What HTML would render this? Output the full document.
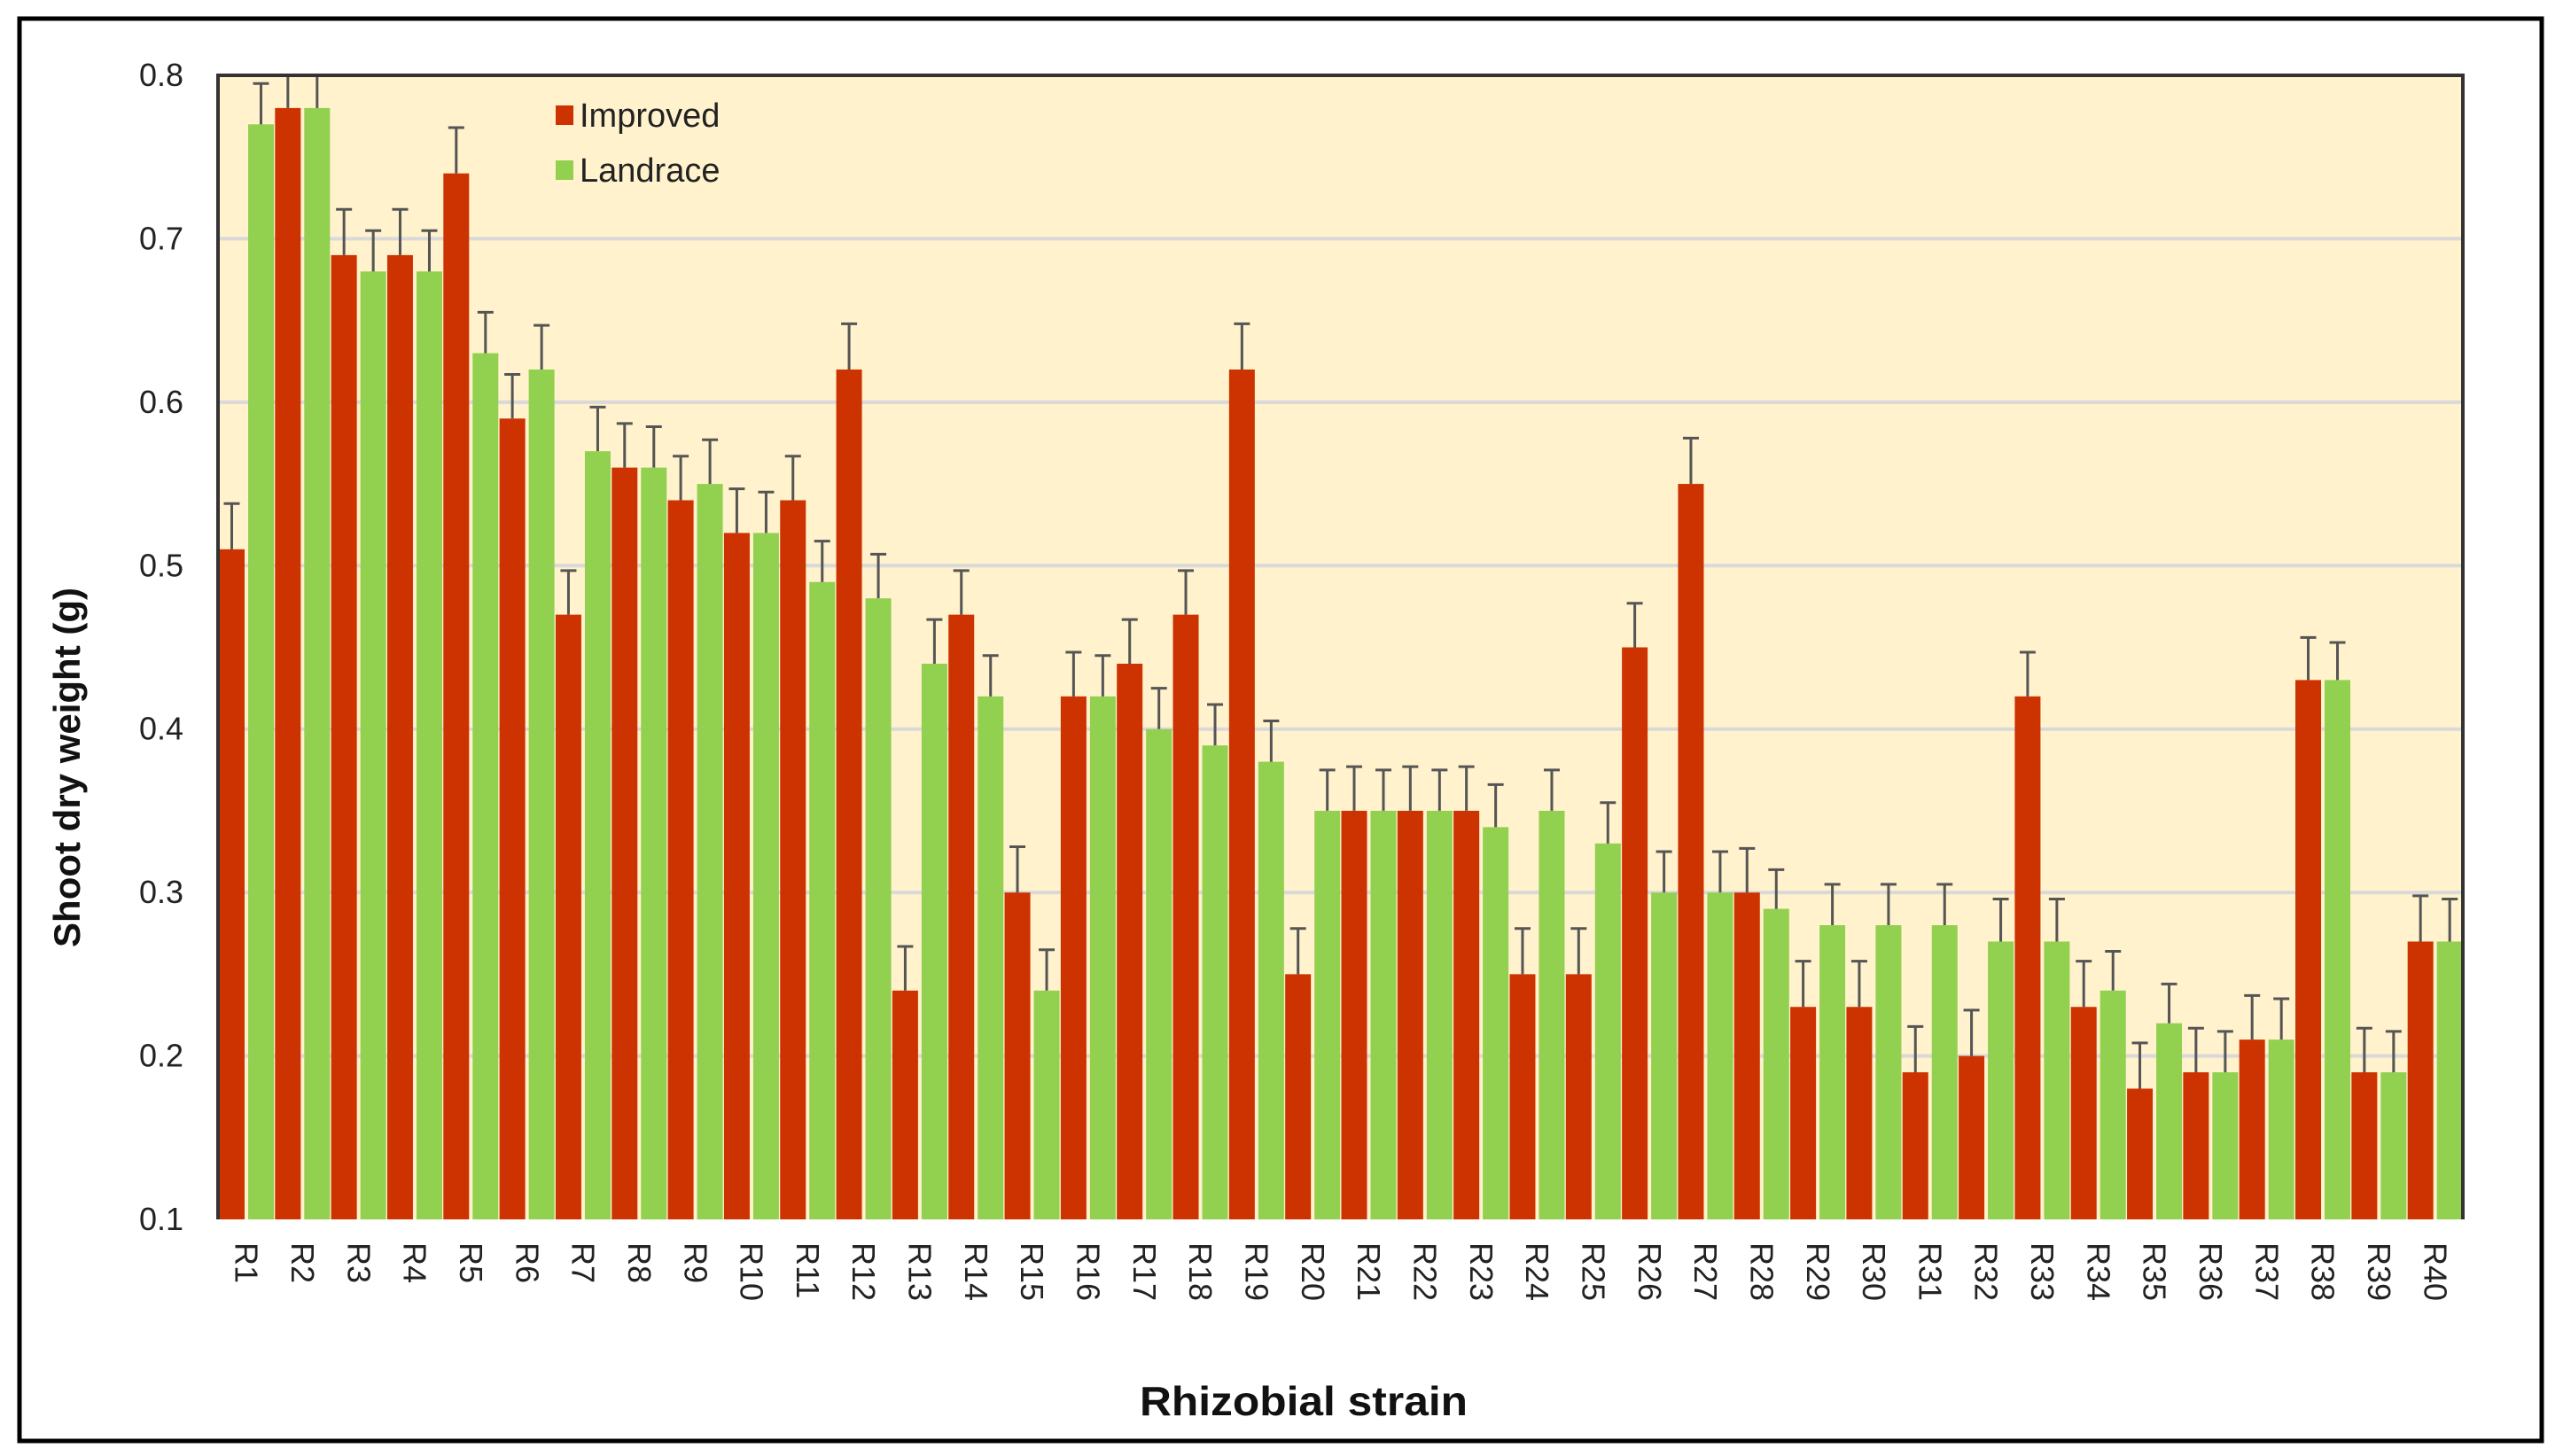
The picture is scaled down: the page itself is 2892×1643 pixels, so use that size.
<!DOCTYPE html>
<html><head><meta charset="utf-8">
<style>
html,body{margin:0;padding:0;background:#fff;}
svg{display:block;font-family:"Liberation Sans",Arial,sans-serif;}
</style></head>
<body>
<svg id="chart" width="2892" height="1643" viewBox="0 0 2892 1643" xmlns="http://www.w3.org/2000/svg">
<rect x="22" y="21" width="2846" height="1605" fill="#fff" stroke="#000" stroke-width="5"/>
<rect x="246" y="85" width="2533" height="1291" fill="#fff2cc"/>
<g id="grid"></g>
<g id="bars"></g>
<g id="errs"></g>
<path d="M246 1376 V85 H2779 V1376" fill="none" stroke="#333" stroke-width="4"/>
<g id="yticks"></g>
<g id="xticks"></g>
<text transform="translate(90,866) rotate(-90)" text-anchor="middle" font-size="42" font-weight="bold" fill="#111">Shoot dry weight (g)</text>
<text x="1286" y="1597" font-size="46" font-weight="bold" fill="#111" textLength="370" lengthAdjust="spacingAndGlyphs">Rhizobial  strain</text>
<g>
<rect x="627" y="119" width="20" height="22" fill="#cc3300"/>
<text x="654" y="143" font-size="38" fill="#222">Improved</text>
<rect x="627" y="181" width="20" height="22" fill="#92d050"/>
<text x="654" y="205" font-size="38" fill="#222">Landrace</text>
</g>
</svg>
<script>
const categories = ["R1","R2","R3","R4","R5","R6","R7","R8","R9","R10","R11","R12","R13","R14","R15","R16","R17","R18","R19","R20","R21","R22","R23","R24","R25","R26","R27","R28","R29","R30","R31","R32","R33","R34","R35","R36","R37","R38","R39","R40"];
const improved = [0.51,0.78,0.69,0.69,0.74,0.59,0.47,0.56,0.54,0.52,0.54,0.62,0.24,0.47,0.30,0.42,0.44,0.47,0.62,0.25,0.35,0.35,0.35,0.25,0.25,0.45,0.55,0.30,0.23,0.23,0.19,0.20,0.42,0.23,0.18,0.19,0.21,0.43,0.19,0.27];
const landrace = [0.77,0.78,0.68,0.68,0.63,0.62,0.57,0.56,0.55,0.52,0.49,0.48,0.44,0.42,0.24,0.42,0.40,0.39,0.38,0.35,0.35,0.35,0.34,0.35,0.33,0.30,0.30,0.29,0.28,0.28,0.28,0.27,0.27,0.24,0.22,0.19,0.21,0.43,0.19,0.27];
const improvedErr = [0.028,0.028,0.028,0.028,0.028,0.027,0.027,0.027,0.027,0.027,0.027,0.028,0.027,0.027,0.028,0.027,0.027,0.027,0.028,0.028,0.027,0.027,0.027,0.028,0.028,0.027,0.028,0.027,0.028,0.028,0.028,0.028,0.027,0.028,0.028,0.027,0.027,0.026,0.027,0.028];
const landraceErr = [0.025,0.025,0.025,0.025,0.025,0.027,0.027,0.025,0.027,0.025,0.025,0.027,0.027,0.025,0.025,0.025,0.025,0.025,0.025,0.025,0.025,0.025,0.026,0.025,0.025,0.025,0.025,0.024,0.025,0.025,0.025,0.026,0.026,0.024,0.024,0.025,0.025,0.023,0.025,0.026];
const yTicks = ["0.1","0.2","0.3","0.4","0.5","0.6","0.7","0.8"];

const NS="http://www.w3.org/2000/svg";
const L=246,R=2779,T=85,B=1376,YMIN=0.1,YMAX=0.8;
const y=v=>B-(Math.min(v,YMAX)-YMIN)/(YMAX-YMIN)*(B-T);
const gw=(R-L)/categories.length;
const x=i=>L+i*gw;
function mk(tag,attrs,parent){const e=document.createElementNS(NS,tag);for(const k in attrs)e.setAttribute(k,attrs[k]);parent.appendChild(e);return e;}
const grid=document.getElementById('grid'),bars=document.getElementById('bars'),errs=document.getElementById('errs'),yt=document.getElementById('yticks'),xt=document.getElementById('xticks');
yTicks.forEach(t=>{const v=parseFloat(t);const yy=y(v);
 if(v>YMIN&&v<YMAX){const g=mk('line',{x1:L,x2:R,y1:yy,y2:yy,stroke:'#d9d9d9','stroke-width':4},grid);
 
 }
 const tx=mk('text',{x:207,y:yy+12,'text-anchor':'end','font-size':36,fill:'#222'},yt);tx.textContent=t;
 
 
});
const bw=29;
function err(cx,v,e){const top=Math.max(y(v+e),T-4);
 const g=mk('path',{d:`M${cx} ${y(v)} V${top} M${cx-9} ${top} H${cx+9}`,stroke:'#555','stroke-width':3,fill:'none'},errs);
 
 }
categories.forEach((c,i)=>{const gx=x(i);
 const r=mk('rect',{x:gx+1,y:y(improved[i]),width:bw,height:B-y(improved[i]),fill:'#cc3300'},bars);
 
 
 const g=mk('rect',{x:gx+34,y:y(landrace[i]),width:bw,height:B-y(landrace[i]),fill:'#92d050'},bars);
 
 
 err(gx+1+bw/2,improved[i],improvedErr[i]);
 err(gx+34+bw/2,landrace[i],landraceErr[i]);
 const cx=gx+gw/2;
 const t=mk('text',{transform:`translate(${cx-12},1402) rotate(90)`,'font-size':36,fill:'#222'},xt);t.textContent=c;
 
 
});
</script>
</body></html>
